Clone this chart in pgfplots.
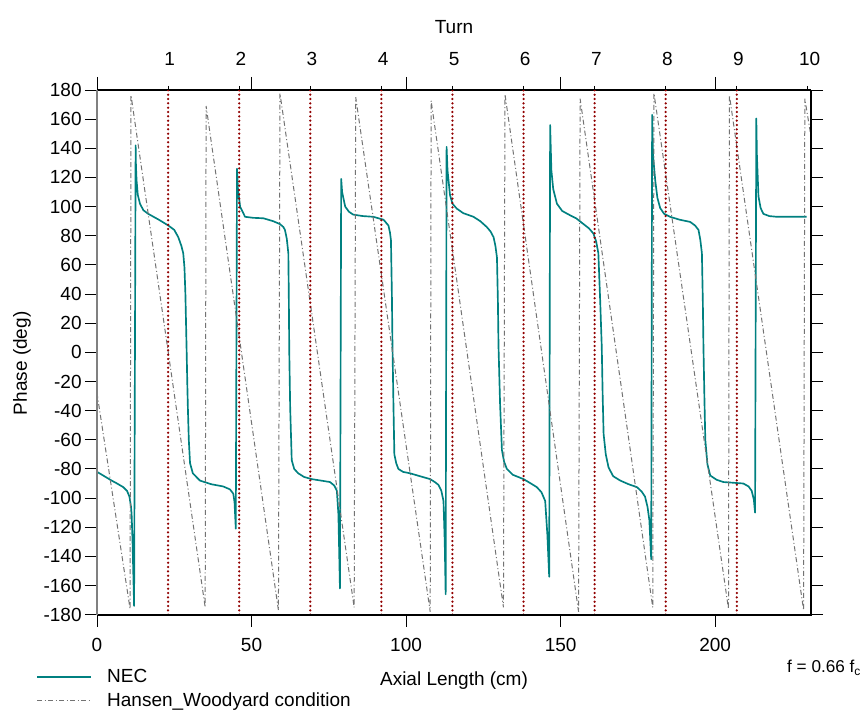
\documentclass[border=0pt]{standalone}
\usepackage{pgfplots}
\pgfplotsset{compat=1.18}
\usepackage{fontspec}
\setmainfont{Liberation Sans}
\definecolor{necteal}{RGB}{0,128,128}
\definecolor{turnred}{RGB}{145,0,0}
\definecolor{hwgray}{RGB}{115,115,115}
\begin{document}
\begin{tikzpicture}[font=\fontsize{11.4}{13.5}\selectfont]
\begin{axis}[name=main,
  scale only axis, width=428.4pt, height=314.8pt,
  xmin=0, xmax=231, ymin=-180, ymax=180,
  clip=false,
  xtick={0,50,100,150,200}, xticklabels={0,50,100,150,200},
  xtick pos=left, xticklabel pos=left,
  ytick={-180,-160,...,180},
  yticklabels={-180,-160,-140,-120,-100,-80,-60,-40,-20,0,20,40,60,80,100,120,140,160,180},
  ytick pos=both, yticklabel pos=left,
  tick align=outside, major tick length=7.2pt,
  xticklabel shift=3.5pt, yticklabel shift=-1.5pt,
  axis line style={line width=0.6pt},
  tick style={line width=0.6pt, black},
  xlabel={Axial Length (cm)}, ylabel={Phase (deg)},
  xlabel style={at={(axis description cs:0.5,-0.126)}, anchor=center},
  ylabel style={at={(axis description cs:-0.105,0.479)}, anchor=center},
  legend style={at={(axis description cs:-0.0854,-0.097)}, anchor=north west, draw=none, fill=none,
    inner sep=0pt, row sep=0.5pt, cells={anchor=west}, font=\fontsize{11.4}{13.5}\selectfont},
  legend image code/.code={\draw[#1] (0pt,0pt) -- (32pt,0pt);},
  /tikz/every odd column/.append style={column sep=7.5pt},
]
\addplot[necteal, line width=1pt, line join=round] coordinates {
(0,-82) (2,-84.5) (4.75,-88) (6.5,-90) (8.5,-92.5) (9.7,-95) (10.5,-99) (11.0,-106) (11.2,-111) (11.5,-130) (12.0,-174)
(12.5,142) (12.6,128) (12.8,118) (13.2,108) (13.9,102) (15,97.5) (16.6,95) (20,91) (23.1,87) (25,84) (26.3,79) (27.3,73) (27.9,68) (28.3,58) (28.6,40) (29.0,1) (29.2,-20) (29.4,-38) (29.7,-60) (30.1,-76) (31,-83) (33.3,-88) (37,-90.5) (40.8,-92) (43,-94) (44.1,-97) (44.5,-103) (44.9,-121)
(45.3,126) (45.6,112) (46.3,100) (47.9,93) (50.5,92.3) (53.8,92) (57,90) (59.2,88) (60.3,86) (60.8,84) (61.4,78) (61.9,68) (62.05,40) (62.2,1) (62.5,-38) (63.0,-74) (63.8,-80) (65.1,-83) (67,-85.5) (69.5,-87) (72.5,-88) (75.4,-89) (76.8,-91.5) (77.6,-95) (78.1,-111) (78.6,-162)
(79.0,119) (79.3,110) (80.3,100) (81.5,96.5) (82.9,94.5) (86,93.5) (89.4,93) (92.7,91) (94.3,87) (94.8,82) (95.1,77) (95.4,40) (95.6,4) (95.9,-35) (96.2,-70) (96.8,-76) (97.5,-80) (99,-82) (101.3,-83) (104.5,-85) (107.8,-87) (109.3,-89) (110.5,-91) (111.4,-95) (112.1,-102) (112.5,-130) (112.8,-166)
(113.1,141) (113.4,125) (114.2,108) (115,102) (116.4,98.6) (118.5,95.5) (121.8,93) (124,90) (126.1,86) (127.3,83) (128.3,79) (128.9,73) (129.4,65) (129.7,35) (129.9,4) (130.4,-35) (131.0,-67) (131.7,-75) (132.6,-80) (134.5,-84) (138.0,-87) (140,-89.5) (142.3,-92.5) (143.8,-96) (145.0,-102) (145.7,-125) (146.3,-154)
(146.6,156) (147.0,125) (147.6,112) (148.8,102) (150.5,97) (153.1,94) (155,92) (157.4,88) (159.2,85) (160.6,81.5) (161.5,76) (162.2,68) (162.8,35) (163.3,4) (163.6,-30) (163.9,-56) (164.6,-70) (165.5,-79) (167,-85) (169.3,-88) (172,-90.5) (174.7,-92.5) (176.2,-95.5) (177.3,-99) (178.1,-106) (178.7,-115) (179.3,-142)
(179.6,163) (179.9,135) (180.6,118) (181.3,106) (182.2,99) (183.5,95) (185.4,93) (188.5,91) (191.9,89.5) (193.5,87) (194.6,84) (195.2,77) (195.7,68) (196.0,35) (196.2,4) (196.5,-30) (196.8,-60) (197.5,-77) (198.4,-84.5) (200.5,-87.5) (202.7,-89) (206,-89.5) (209.1,-90) (210.8,-92) (211.8,-95) (212.5,-101) (212.9,-110)
(213.3,160.5) (213.5,135) (214.0,107) (214.7,99) (215.6,95) (217.5,93.5) (219.9,93) (225,93) (229.6,93)
};
\addlegendentry{NEC}
\addplot[hwgray, line width=0.6pt, dash pattern=on 3pt off 1.5pt on 0.6pt off 1.5pt] coordinates {
(0,-28) (10.7,-176) (11.0,176.5) (35.0,-175) (35.3,169) (58.7,-177) (59.2,177.7) (83.2,-175) (83.7,175) (107.8,-178) (108.1,172.6) (131.5,-175) (132.0,177) (155.8,-178) (156.3,174) (179.8,-175) (180.2,177.7) (204.3,-176) (204.6,176.5) (228.6,-177) (229.0,174) (231,148)
};
\addlegendentry{Hansen\_Woodyard condition}
\pgfplotsinvokeforeach{23,46,69,92,115,138,161,184,207}{
  \addplot[turnred, line width=1.5pt, line cap=round, dash pattern=on 0pt off 2.6pt, forget plot] coordinates {(#1,-180) (#1,180)};
}
\draw[black, line width=1.4pt] (rel axis cs:0,0) -- (rel axis cs:1,0) -- (rel axis cs:1,1);
\draw[gray, line width=0.9pt] (rel axis cs:0,0) -- (rel axis cs:0,1);
\node[anchor=west, inner sep=0pt, font=\fontsize{10.3}{12}\selectfont] at ([xshift=-14.5pt, yshift=-31.8pt]rel axis cs:1,0) {f = 0.66 f\textsubscript{c}};
\end{axis}
\begin{axis}[
  scale only axis, width=428.4pt, height=314.8pt,
  at={(main.south west)}, anchor=south west,
  xmin=0, xmax=231, ymin=-180, ymax=180,
  axis x line*=top, axis y line=none,
  x axis line style={-, line width=0.6pt},
  xtick={0,50,100,150,200}, xticklabels={,,,,},
  tick align=outside, major tick length=7.8pt,
  tick style={line width=0.6pt, black},
  extra x ticks={23,46,69,92,115,138,161,184,207,230},
  extra x tick labels={1,2,3,4,5,6,7,8,9,10},
  extra x tick style={major tick length=2.4pt, tick label style={yshift=8.5pt, xshift=1pt}},
  xlabel={Turn},
  xlabel style={at={(axis description cs:0.5,1.12)}, anchor=center},
]
\end{axis}
\path ([shift={(-58.2pt,-62.6pt)}]main.south west) rectangle ([shift={(33.6pt,54pt)}]main.north east);
\end{tikzpicture}
\end{document}
